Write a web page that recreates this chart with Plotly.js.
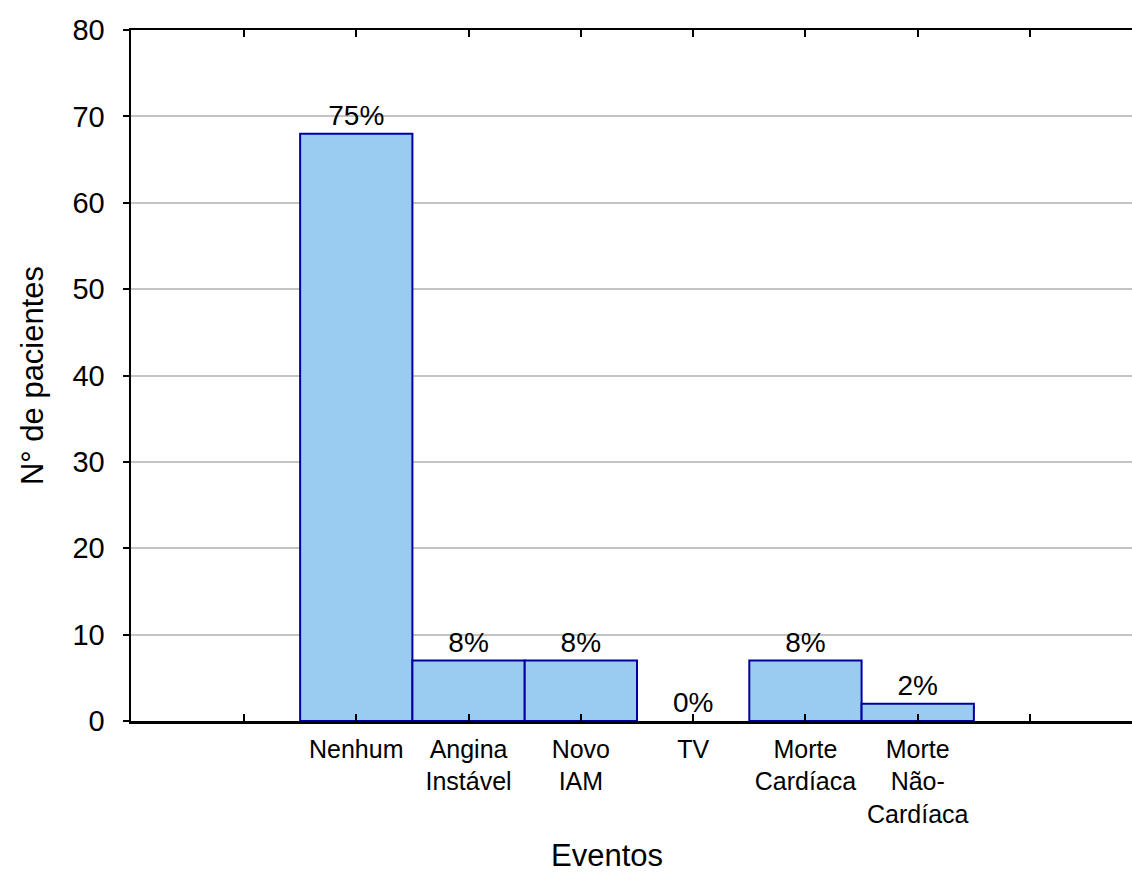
<!DOCTYPE html>
<html>
<head>
<meta charset="utf-8">
<script src="https://cdn.plot.ly/plotly-3.0.1.min.js"></script>
<style>
  html, body { margin: 0; padding: 0; background: #ffffff; }
  #chart { width: 1132px; height: 876px; }
</style>
</head>
<body>
<div id="chart"></div>
<script>
// Eventos durante o seguimento
const categories = ['Nenhum', 'Angina<br>Instável', 'Novo<br>IAM', 'TV', 'Morte<br>Cardíaca', 'Morte<br>Não-<br>Cardíaca'];
const pacientes = [68, 7, 7, 0, 7, 2];
const percentLabels = ['75%', '8%', '8%', '0%', '8%', '2%'];
const yTicks = [0, 10, 20, 30, 40, 50, 60, 70, 80];

// one empty slot on each side of the six event categories
const xPos = categories.map((c, i) => i + 1);
const tickVals = [0].concat(xPos, [categories.length + 1]);
const tickText = [''].concat(categories, ['']);

// empty bars get no outline
const outlineWidths = pacientes.map(v => (v > 0 ? 2 : 0));

const FONT = '"Liberation Sans", Arial, Helvetica, sans-serif';

const trace = {
  type: 'bar',
  x: xPos,
  y: pacientes,
  width: 1,
  text: percentLabels,
  textposition: 'outside',
  cliponaxis: false,
  textfont: { family: FONT, size: 28, color: '#000000' },
  marker: {
    color: '#99ccf0',
    line: { color: '#0000a0', width: outlineWidths }
  },
  hoverinfo: 'x+y'
};

const layout = {
  width: 1132,
  height: 876,
  margin: { l: 131, r: 0, t: 30, b: 155 },
  paper_bgcolor: '#ffffff',
  plot_bgcolor: '#ffffff',
  font: { family: FONT, color: '#000000' },
  showlegend: false,
  bargap: 0,
  xaxis: {
    range: [-1.006, 7.908],
    tickmode: 'array',
    tickvals: tickVals,
    ticktext: tickText,
    ticks: 'inside',
    ticklen: 7,
    tickwidth: 2,
    tickcolor: '#000000',
    tickfont: { family: FONT, size: 25, color: '#000000' },
    ticklabelstandoff: 4,
    showline: true,
    linecolor: '#000000',
    linewidth: 2.5,
    mirror: 'ticks',
    showgrid: false,
    zeroline: false
  },
  yaxis: {
    range: [0, 80],
    tickmode: 'array',
    tickvals: yTicks,
    ticks: 'outside',
    ticklen: 6,
    tickwidth: 2,
    tickcolor: '#000000',
    tickfont: { family: FONT, size: 29, color: '#000000' },
    ticklabelstandoff: 12,
    showline: true,
    linecolor: '#000000',
    linewidth: 2.5,
    showgrid: true,
    gridcolor: '#c4c4c4',
    gridwidth: 2,
    zeroline: false,
    title: { text: 'N° de pacientes', font: { family: FONT, size: 31, color: '#000000' }, standoff: 20 }
  },
  annotations: [{
    text: 'Eventos',
    xref: 'paper', yref: 'paper',
    x: 0.4755, y: -0.195,
    xanchor: 'center', yanchor: 'middle',
    showarrow: false,
    font: { family: FONT, size: 31, color: '#000000' }
  }]
};

Plotly.newPlot('chart', [trace], layout, { displayModeBar: false, staticPlot: true });
</script>
</body>
</html>
